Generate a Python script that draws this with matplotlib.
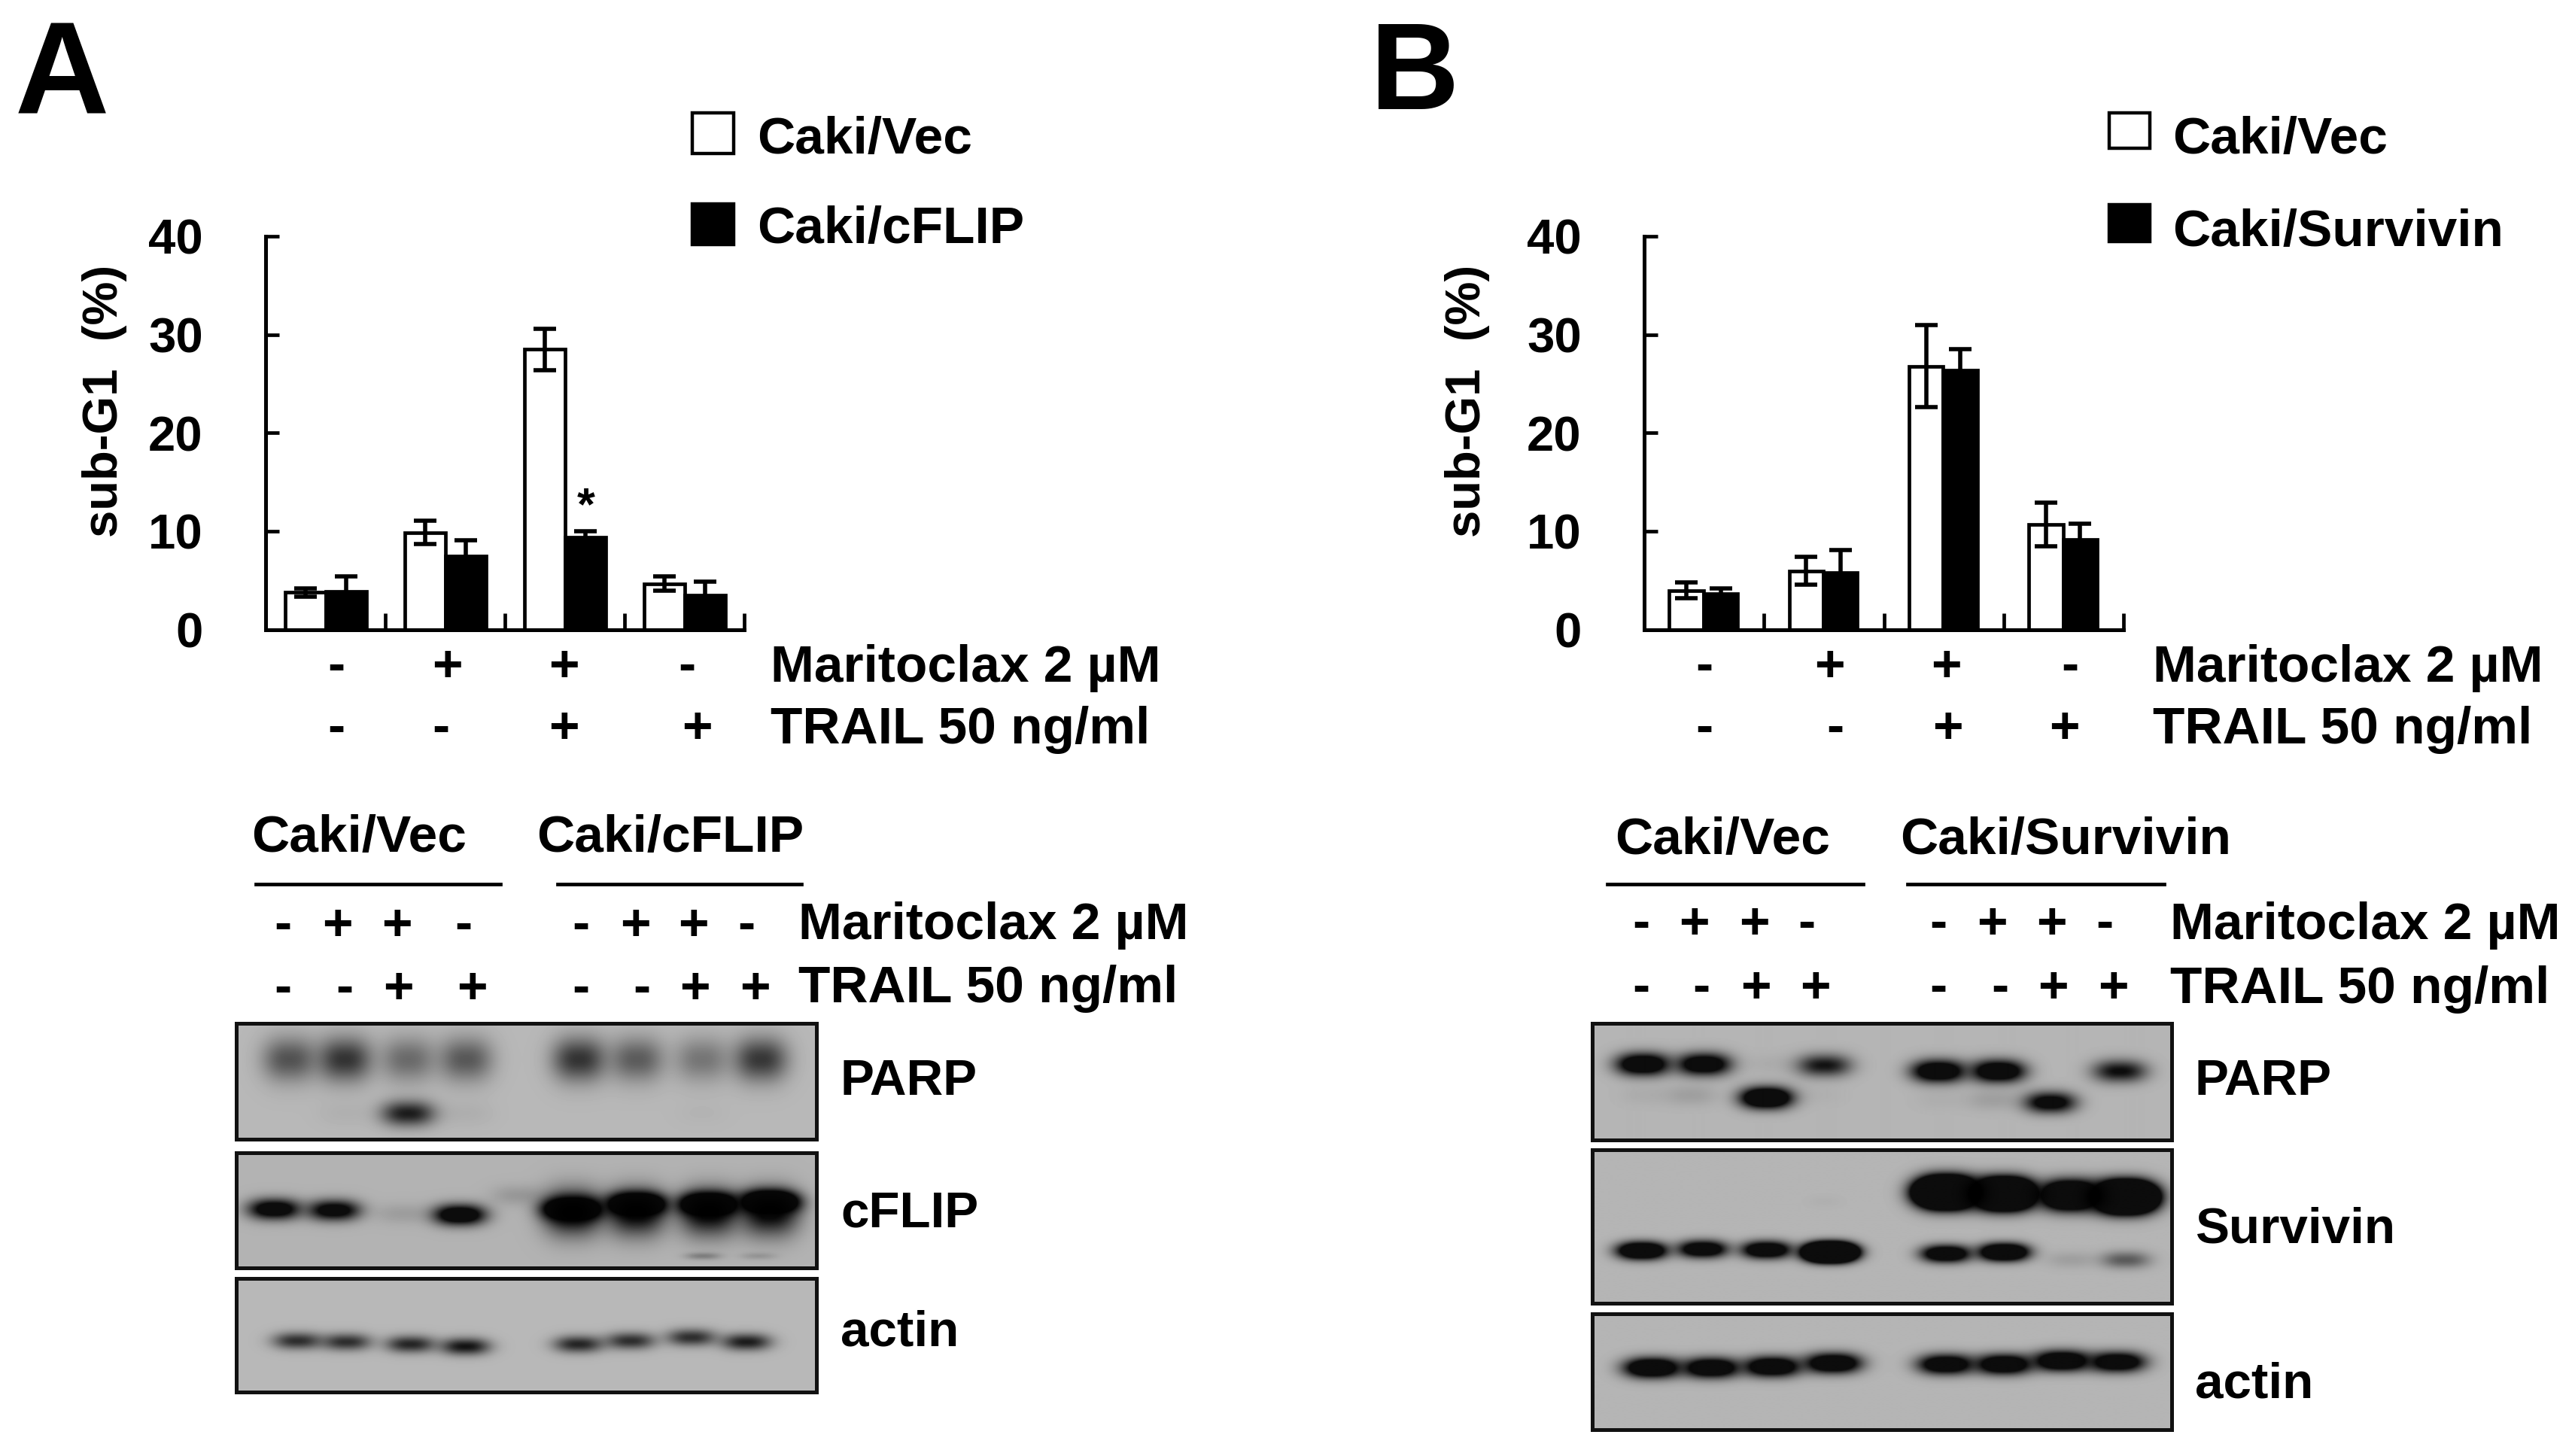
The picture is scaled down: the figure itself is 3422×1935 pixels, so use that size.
import numpy as np
import matplotlib
matplotlib.use("Agg")
import matplotlib.pyplot as plt
from matplotlib.patches import Rectangle

plt.rcParams["font.family"] = ["Liberation Sans", "DejaVu Sans"]
plt.rcParams["font.weight"] = "bold"

W, H = 3422, 1935

# -----------------------------
# Data - sub-G1 bars
# -----------------------------
y_ticks = [0, 10, 20, 30, 40]

a_vec = [3.8, 9.9, 28.5, 4.7]
a_vec_err = [0.4, 1.2, 2.1, 0.7]
a_flip = [3.9, 7.5, 9.4, 3.5]
a_flip_err = [1.5, 1.6, 0.6, 1.4]

b_vec = [4.0, 6.0, 26.8, 10.7]
b_vec_err = [0.8, 1.4, 4.15, 2.2]
b_surv = [3.7, 5.8, 26.4, 9.2]
b_surv_err = [0.5, 2.3, 2.1, 1.6]

# -----------------------------
# Data - treatment signs
# -----------------------------
maritoclax = ["-", "+", "+", "-"]
trail = ["-", "-", "+", "+"]

# -----------------------------
# Data - blot band strength per lane
# -----------------------------
a_parp_upper = [0.55, 0.72, 0.42, 0.52, 0.72, 0.5, 0.36, 0.7]
a_parp_lower = [0.0, 0.04, 0.85, 0.05, 0.0, 0.0, 0.02, 0.0]
a_flip_main = [1.3, 1.2, 0.12, 1.4, 0.15, 3.0, 3.0, 3.0, 3.0]
a_flip_low = [0.28, 0.15]
a_actin = [0.75, 0.75, 0.8, 0.9, 0.8, 0.75, 0.75, 0.85]

b_parp_upper = [1.5, 1.4, 0.05, 0.9, 1.5, 1.5, 0.0, 0.95]
b_parp_lower = [0.05, 0.12, 1.8, 0.03, 0.04, 0.12, 1.2, 0.0]
b_surv_upper = [0.0, 0.0, 0.0, 0.03, 5.0, 4.5, 2.6, 5.0]
b_surv_lower = [1.9, 1.5, 1.6, 5.0, 1.6, 2.0, 0.12, 0.5]
b_actin = [1.7, 1.6, 1.6, 1.6, 1.5, 1.6, 1.7, 1.5]

# -----------------------------
# Figure and overlay in pixels
# -----------------------------
fig = plt.figure(figsize=(W / 100, H / 100), dpi=100, facecolor="white")
page = fig.add_axes([0, 0, 1, 1])
page.set_xlim(0, W)
page.set_ylim(H, 0)
page.axis("off")


def bars(x0, x1, vec, vec_err, other, other_err, left, width):
    y0, y40 = 837, 314
    ax = fig.add_axes([x0 / W, 1 - y0 / H, (x1 - x0) / W, (y0 - y40) / H])
    ax.patch.set_alpha(0)
    groups = np.arange(4)
    err = dict(ecolor="black", elinewidth=4, capsize=11, capthick=4)
    ax.bar(groups + left, vec, width, align="edge", color="white",
           edgecolor="black", linewidth=3.4, yerr=vec_err,
           error_kw=dict(err, zorder=3))
    ax.bar(groups + left + width, other, width, align="edge", color="black",
           edgecolor="black", linewidth=3.4, yerr=other_err,
           error_kw=dict(err, zorder=3))
    ax.set_xlim(0, 4)
    ax.set_ylim(0, 40)
    ax.set_yticks(y_ticks)
    ax.set_xticks(range(5))
    ax.set_xticklabels([])
    ax.tick_params(axis="y", direction="in", length=13, width=3.4, pad=60, labelsize=47)
    ax.tick_params(axis="x", direction="in", length=16, width=3.4)
    for label_ in ax.get_yticklabels():
        label_.set_y(label_.get_position()[1])
    for s in ["top", "right"]:
        ax.spines[s].set_visible(False)
    for s in ["left", "bottom"]:
        ax.spines[s].set_linewidth(3.6)
    return ax


def signs(xs, y, values):
    for x, v in zip(xs, values):
        page.text(x, y + 3, v, fontsize=50, ha="center", va="center")


def label(x, y, s, size=50):
    page.text(x - 2, y + 4, s, fontsize=size, ha="left", va="center")


def blot(x0, y0, x1, y1, rows, bg=0.71):
    # rows: (lane x, lane y, strength, half width, half height), as panel fractions
    w, h = x1 - x0, y1 - y0
    xx, yy = np.meshgrid(np.linspace(0, 1, int(w)), np.linspace(0, 1, int(h)))
    img = np.full(xx.shape, bg)
    for lane_x, lane_y, strength, hw, hh in rows:
        for cx, cy, amp in zip(lane_x, lane_y, strength):
            shape = np.exp(-(np.abs(xx - cx) / hw) ** 2.5) * np.exp(-(np.abs(yy - cy) / hh) ** 2)
            img = img * (1 - np.clip(amp * shape, 0, 0.93))
    ax = fig.add_axes([x0 / W, 1 - y1 / H, w / W, h / H])
    ax.imshow(img, cmap="gray", vmin=0, vmax=1, aspect="auto", interpolation="bilinear")
    ax.set_xticks([])
    ax.set_yticks([])
    for s in ax.spines.values():
        s.set_linewidth(3.6)
        s.set_color("#111111")


# -----------------------------
# Panel A
# -----------------------------
ax_a = bars(353, 989, a_vec, a_vec_err, a_flip, a_flip_err, 0.165, 0.34)
ax_a.text(2.68, 12.4, "*", fontsize=44, ha="center", va="center")

page.text(20, 151, "A", fontsize=125, ha="left", va="baseline")
page.add_patch(Rectangle((920, 150), 55, 54, fc="white", ec="black", lw=3.2))
page.add_patch(Rectangle((920, 271), 55, 54, fc="black", ec="black", lw=3.2))
label(1008, 182, "Caki/Vec")
label(1008, 301, "Caki/cFLIP")
page.text(139, 533, "sub-G1  (%)", fontsize=47, rotation=90, ha="center", va="center")
signs([447, 594, 749, 913], 884, maritoclax)
signs([447, 586, 749, 926], 966, trail)
label(1026, 884, "Maritoclax 2 µM")
label(1026, 966, "TRAIL 50 ng/ml")

label(336, 1110, "Caki/Vec")
label(715, 1110, "Caki/cFLIP")
page.plot([340, 665], [1175, 1175], color="black", lw=3.4)
page.plot([741, 1065], [1175, 1175], color="black", lw=3.4)
signs([376, 448, 527, 616], 1228, maritoclax)
signs([772, 844, 921, 992], 1228, maritoclax)
signs([376, 458, 529, 627], 1312, trail)
signs([772, 853, 923, 1003], 1312, trail)
label(1063, 1226, "Maritoclax 2 µM")
label(1063, 1310, "TRAIL 50 ng/ml")

parp_x = [0.091, 0.187, 0.296, 0.396, 0.591, 0.691, 0.803, 0.905]
blot(314, 1360, 1085, 1514, [
    (parp_x, [0.31] * 8, a_parp_upper, 0.046, 0.19),
    (parp_x, [0.78] * 8, a_parp_lower, 0.046, 0.11),
], bg=0.72)
flip_x = [0.065, 0.168, 0.285, 0.385, 0.485, 0.58, 0.69, 0.815, 0.92]
flip_y = [0.49, 0.50, 0.53, 0.54, 0.37, 0.49, 0.45, 0.45, 0.43]
flip_hh = 0.09
blot(314, 1532, 1085, 1685, [
    (flip_x, flip_y, a_flip_main, 0.045, flip_hh),
    (flip_x[5:], [0.52] * 4, [1.0] * 4, 0.05, 0.2),
    ([0.805, 0.9], [0.9, 0.9], a_flip_low, 0.03, 0.03),
], bg=0.7)
blot(314, 1699, 1085, 1850, [
    ([0.105, 0.19, 0.30, 0.395, 0.59, 0.68, 0.785, 0.88],
     [0.55, 0.56, 0.58, 0.60, 0.58, 0.55, 0.52, 0.56], a_actin, 0.042, 0.075),
], bg=0.72)
label(1119, 1434, "PARP", 48.5)
label(1119, 1609, "cFLIP", 48.5)
label(1119, 1767, "actin", 48.5)

# -----------------------------
# Panel B
# -----------------------------
bars(2185, 2822, b_vec, b_vec_err, b_surv, b_surv_err, 0.21, 0.285)

page.text(1821, 145, "B", fontsize=118, ha="left", va="baseline")
page.add_patch(Rectangle((2803, 150), 54, 47, fc="white", ec="black", lw=3.2))
page.add_patch(Rectangle((2803, 272), 54, 49, fc="black", ec="black", lw=3.2))
label(2889, 182, "Caki/Vec")
label(2889, 305, "Caki/Survivin")
page.text(1950, 533, "sub-G1  (%)", fontsize=47, rotation=90, ha="center", va="center")
signs([2265, 2431, 2586, 2751], 884, maritoclax)
signs([2265, 2439, 2588, 2743], 966, trail)
label(2863, 884, "Maritoclax 2 µM")
label(2863, 966, "TRAIL 50 ng/ml")

label(2148, 1113, "Caki/Vec")
label(2527, 1113, "Caki/Survivin")
page.plot([2136, 2476], [1175, 1175], color="black", lw=3.4)
page.plot([2535, 2876], [1175, 1175], color="black", lw=3.4)
signs([2181, 2251, 2331, 2401], 1226, maritoclax)
signs([2576, 2647, 2726, 2797], 1226, maritoclax)
signs([2181, 2261, 2333, 2412], 1311, trail)
signs([2576, 2658, 2728, 2808], 1311, trail)
label(2886, 1226, "Maritoclax 2 µM")
label(2886, 1311, "TRAIL 50 ng/ml")

blot(2116, 1360, 2886, 1515, [
    ([0.087, 0.192, 0.31, 0.40, 0.597, 0.70, 0.815, 0.91],
     [0.35, 0.35, 0.35, 0.36, 0.41, 0.41, 0.41, 0.41], b_parp_upper, 0.046, 0.095),
    ([0.09, 0.17, 0.30, 0.39, 0.60, 0.69, 0.79, 0.90],
     [0.62, 0.62, 0.64, 0.62, 0.66, 0.66, 0.68, 0.66], b_parp_lower, 0.044, 0.09),
], bg=0.71)
blot(2116, 1528, 2886, 1732, [
    ([0.085, 0.19, 0.30, 0.41, 0.61, 0.71, 0.825, 0.92],
     [0.66, 0.65, 0.655, 0.67, 0.68, 0.67, 0.72, 0.72], b_surv_lower, 0.042, 0.055),
    ([0.61, 0.71, 0.825, 0.92], [0.28, 0.29, 0.30, 0.31], b_surv_upper[4:], 0.05, 0.09),
    ([0.40], [0.34], [0.03], 0.03, 0.04),
], bg=0.71)
blot(2116, 1746, 2886, 1900, [
    ([0.103, 0.205, 0.31, 0.415, 0.61, 0.71, 0.81, 0.905],
     [0.47, 0.47, 0.46, 0.43, 0.44, 0.44, 0.41, 0.42], b_actin, 0.048, 0.085),
], bg=0.71)
label(2919, 1434, "PARP", 48.5)
label(2919, 1630, "Survivin", 48.5)
label(2919, 1836, "actin", 48.5)

fig.savefig("out.png", dpi=100)
